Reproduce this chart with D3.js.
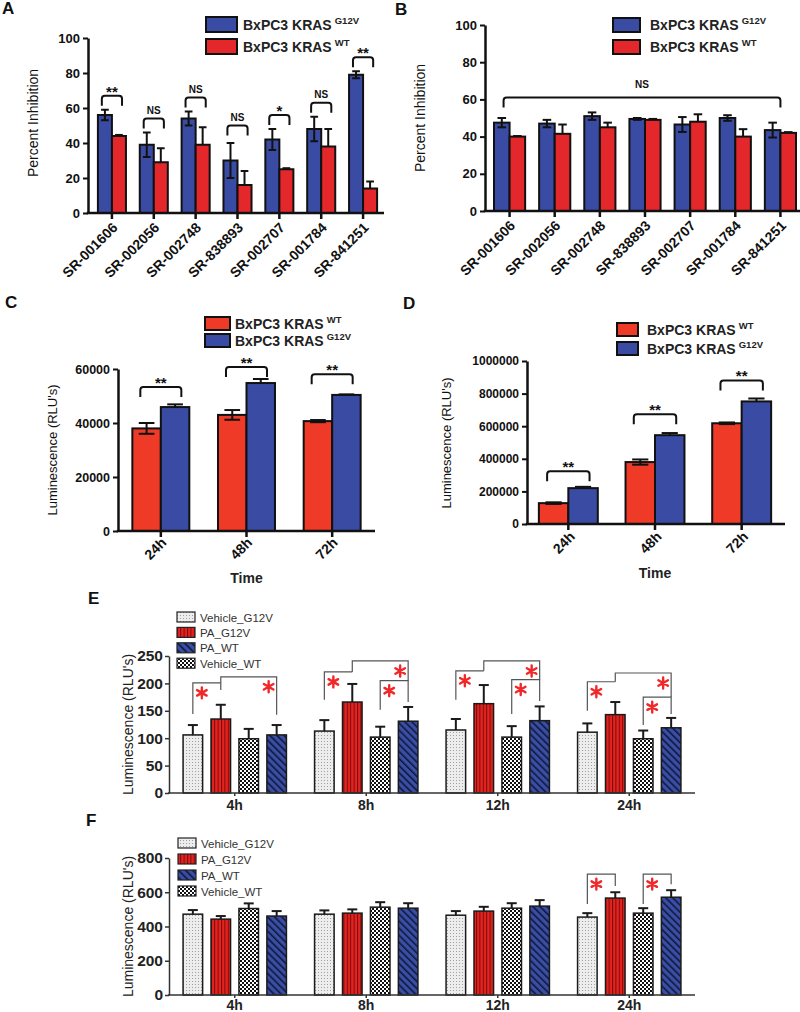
<!DOCTYPE html>
<html>
<head>
<meta charset="utf-8">
<script src="https://cdn.jsdelivr.net/npm/d3@7"></script>
<style>
body { margin: 0; background: #fff; }
svg { display: block; font-family: "Liberation Sans", Arial, sans-serif; }
</style>
</head>
<body>
<svg id="fig" width="800" height="1012"></svg>
<script>
// ---- data ----
const compounds = ["SR-001606", "SR-002056", "SR-002748", "SR-838893", "SR-002707", "SR-001784", "SR-841251"];

const inhibA_G12V = [56, 39, 54, 30, 42, 48, 79];
const inhibA_G12V_err = [3, 7, 4, 10, 6, 7, 2];
const inhibA_WT = [44, 29, 39, 16, 25, 38, 14];
const inhibA_WT_err = [0.6, 8, 10, 8, 0.6, 10, 4];
const sigA = ["**", "NS", "NS", "NS", "*", "NS", "**"];
const sigA_level = [67, 54, 66, 50, 56, 63, 89];

const inhibB_G12V = [47.5, 47, 51, 49.5, 46.5, 50, 43.5];
const inhibB_G12V_err = [2.5, 2, 2, 0.5, 4, 1.5, 4];
const inhibB_WT = [40, 41.5, 45, 49, 48, 40, 42];
const inhibB_WT_err = [0.3, 5, 2.5, 0.5, 4, 4, 0.4];
const sigB_level = 61;

const times3 = ["24h", "48h", "72h"];
const lumC_WT = [38000, 43000, 40700];
const lumC_WT_err = [2000, 1800, 400];
const lumC_G12V = [45900, 54800, 50400];
const lumC_G12V_err = [1000, 1500, 200];
const sigC_level = [53300, 60700, 58100];

const lumD_WT = [128000, 380000, 618000];
const lumD_WT_err = [5000, 16000, 5000];
const lumD_G12V = [220000, 545000, 752000];
const lumD_G12V_err = [8000, 13000, 18000];
const sigD_level = [324000, 673000, 881000];

const times4 = ["4h", "8h", "12h", "24h"];
const groupsEF = ["Vehicle_G12V", "PA_G12V", "Vehicle_WT", "PA_WT"];   // bar order
const legendEF = ["Vehicle_G12V", "PA_G12V", "PA_WT", "Vehicle_WT"];   // legend order

const lumE = {
  Vehicle_G12V: [106, 113, 115, 111],
  PA_G12V: [135, 166, 163, 143],
  Vehicle_WT: [99, 102, 102, 99],
  PA_WT: [106, 131, 132, 119]
};
const lumE_err = {
  Vehicle_G12V: [18, 20, 20, 16],
  PA_G12V: [26, 33, 34, 23],
  Vehicle_WT: [18, 19, 20, 15],
  PA_WT: [18, 26, 26, 18]
};
const lumF = {
  Vehicle_G12V: [472, 472, 466, 455],
  PA_G12V: [443, 478, 490, 566],
  Vehicle_WT: [505, 513, 507, 478],
  PA_WT: [461, 507, 519, 571]
};
const lumF_err = {
  Vehicle_G12V: [24, 22, 24, 23],
  PA_G12V: [18, 22, 25, 34],
  Vehicle_WT: [30, 29, 29, 29],
  PA_WT: [29, 29, 35, 41]
};
// significance brackets: [time, from, to, top, leftEnd, rightEnd, star side]
const sigE = [
  ["4h", "Vehicle_G12V", "PA_G12V", 201, 144, 188, "l"],
  ["4h", "PA_G12V", "PA_WT", 212, 201, 143, "r"],
  ["8h", "Vehicle_G12V", "PA_G12V", 221, 170, 221, "l"],
  ["8h", "PA_G12V", "PA_WT", 241, 221, 205, "r"],
  ["8h", "Vehicle_WT", "PA_WT", 205, 152, 166, "l"],
  ["12h", "Vehicle_G12V", "PA_G12V", 223, 170, 223, "l"],
  ["12h", "PA_G12V", "PA_WT", 241, 223, 207, "r"],
  ["12h", "Vehicle_WT", "PA_WT", 207, 144, 168, "l"],
  ["24h", "Vehicle_G12V", "PA_G12V", 203, 150, 203, "l"],
  ["24h", "PA_G12V", "PA_WT", 219, 203, 175, "r"],
  ["24h", "Vehicle_WT", "PA_WT", 175, 124, 144, "l"]
];
const sigF = [
  ["24h", "Vehicle_G12V", "PA_G12V", 706, 531, 636, "l"],
  ["24h", "Vehicle_WT", "PA_WT", 706, 531, 647, "l"]
];

const BLUE = "#3a4ba3";
const RED = "#e3272b";
const RED_C = "#ee3a27";

const svg = d3.select("#fig");

// ---- patterns for E / F ----
const defs = svg.append("defs");
const pDots = defs.append("pattern").attr("id", "pDots")
  .attr("width", 3).attr("height", 3).attr("patternUnits", "userSpaceOnUse");
pDots.append("rect").attr("width", 3).attr("height", 3).attr("fill", "#ededed");
pDots.append("rect").attr("width", 1).attr("height", 1).attr("fill", "#a0a0a0");

const pStripe = defs.append("pattern").attr("id", "pStripe")
  .attr("width", 3.4).attr("height", 4).attr("patternUnits", "userSpaceOnUse");
pStripe.append("rect").attr("width", 3.4).attr("height", 4).attr("fill", "#e2231f");
pStripe.append("rect").attr("width", 1).attr("height", 4).attr("fill", "#7a0c0c");

const pCheck = defs.append("pattern").attr("id", "pCheck")
  .attr("width", 4).attr("height", 4).attr("patternUnits", "userSpaceOnUse");
pCheck.append("rect").attr("width", 4).attr("height", 4).attr("fill", "#fff");
pCheck.append("rect").attr("width", 2).attr("height", 2).attr("fill", "#111");
pCheck.append("rect").attr("x", 2).attr("y", 2).attr("width", 2).attr("height", 2).attr("fill", "#111");

const pDiag = defs.append("pattern").attr("id", "pDiag")
  .attr("width", 5).attr("height", 5).attr("patternUnits", "userSpaceOnUse")
  .attr("patternTransform", "rotate(-45)");
pDiag.append("rect").attr("width", 5).attr("height", 5).attr("fill", "#3b4ea6");
pDiag.append("rect").attr("width", 1.6).attr("height", 5).attr("fill", "#0f1838");

const fillEF = {
  Vehicle_G12V: "url(#pDots)",
  PA_G12V: "url(#pStripe)",
  Vehicle_WT: "url(#pCheck)",
  PA_WT: "url(#pDiag)"
};

function panelLetter(t, x, y) {
  svg.append("text").attr("x", x).attr("y", y)
    .attr("font-size", 17).attr("font-weight", "bold").attr("fill", "#111").text(t);
}

function bracketPath(x1, x2, y, leg) {
  const r = 3;
  return "M" + x1 + "," + (y + leg) + "L" + x1 + "," + (y + r) +
    "Q" + x1 + "," + y + " " + (x1 + r) + "," + y +
    "L" + (x2 - r) + "," + y + "Q" + x2 + "," + y + " " + x2 + "," + (y + r) +
    "L" + x2 + "," + (y + leg);
}

// ---- two-series panels (A-D) ----
function pairedPanel(cfg) {
  const g = svg.append("g");
  const x = d3.scaleBand().domain(cfg.cats).range(cfg.xRange)
    .paddingInner(cfg.pad).paddingOuter(cfg.pad / 2);
  const xs = d3.scaleBand().domain([0, 1]).range([0, x.bandwidth()]);
  const y = d3.scaleLinear().domain(cfg.yDomain).range(cfg.yRange);
  const y0 = y(0);

  cfg.series.forEach((s, si) => {
    g.selectAll(null).data(s.vals).join("rect")
      .attr("x", (d, i) => x(cfg.cats[i]) + xs(si))
      .attr("y", d => y(d))
      .attr("width", xs.bandwidth())
      .attr("height", d => y0 - y(d))
      .attr("fill", s.color)
      .attr("stroke", "#111").attr("stroke-width", 2);
  });

  // error bars: left series both ways, right series up only
  cfg.series.forEach((s, si) => {
    const capW = xs.bandwidth() * 0.55;
    s.vals.forEach((v, i) => {
      const cx = x(cfg.cats[i]) + xs(si) + xs.bandwidth() / 2;
      const lo = si === 0 ? v - s.errs[i] : v;
      const hi = v + s.errs[i];
      g.append("line").attr("x1", cx).attr("x2", cx).attr("y1", y(lo)).attr("y2", y(hi))
        .attr("stroke", "#111").attr("stroke-width", 2);
      g.append("line").attr("x1", cx - capW / 2).attr("x2", cx + capW / 2)
        .attr("y1", y(hi)).attr("y2", y(hi)).attr("stroke", "#111").attr("stroke-width", 2);
      if (si === 0) {
        g.append("line").attr("x1", cx - capW / 2).attr("x2", cx + capW / 2)
          .attr("y1", y(lo)).attr("y2", y(lo)).attr("stroke", "#111").attr("stroke-width", 2);
      }
    });
  });

  // y axis
  const ya = g.append("g").attr("transform", "translate(" + cfg.axisX + ",0)")
    .call(d3.axisLeft(y).tickValues(cfg.ticks).tickSize(5).tickSizeOuter(0).tickPadding(3)
      .tickFormat(d3.format("d")));
  ya.select(".domain").attr("stroke", "#111").attr("stroke-width", 2.5);
  ya.selectAll(".tick line").attr("stroke", "#111").attr("stroke-width", 2);
  ya.selectAll(".tick text").attr("font-size", cfg.tickFont).attr("font-weight", "bold")
    .attr("fill", "#111").attr("font-family", "Liberation Sans, Arial, sans-serif");

  // x axis
  g.append("line").attr("x1", cfg.axisX - 1.2).attr("x2", cfg.xEnd)
    .attr("y1", y0).attr("y2", y0).attr("stroke", "#111").attr("stroke-width", 2.5);
  cfg.cats.forEach(c => {
    const cx = x(c) + x.bandwidth() / 2;
    g.append("line").attr("x1", cx).attr("x2", cx).attr("y1", y0).attr("y2", y0 + 6)
      .attr("stroke", "#111").attr("stroke-width", 2.5);
    g.append("text")
      .attr("transform", "translate(" + (cx + cfg.lblDx) + "," + (y0 + cfg.lblDy) + ") rotate(-45)")
      .attr("text-anchor", "end").attr("dy", "0.35em")
      .attr("font-size", 14).attr("font-weight", "bold").attr("fill", "#111").text(c);
  });

  // y label
  g.append("text")
    .attr("transform", "translate(" + cfg.yLabel[0] + "," + cfg.yLabel[1] + ") rotate(-90)")
    .attr("text-anchor", "middle").attr("font-size", cfg.yLabelFont).attr("fill", "#111")
    .text(cfg.yLabelText);

  if (cfg.xTitle) {
    g.append("text").attr("x", (cfg.xRange[0] + cfg.xRange[1]) / 2).attr("y", cfg.xTitle)
      .attr("text-anchor", "middle").attr("font-size", 14).attr("font-weight", "bold")
      .attr("fill", "#222").text("Time");
  }

  // brackets per group
  if (cfg.sig) {
    cfg.cats.forEach((c, i) => {
      const cx = x(c) + x.bandwidth() / 2;
      const half = xs.bandwidth() * 0.72;
      const by = y(cfg.sig.level[i]);
      g.append("path").attr("d", bracketPath(cx - half, cx + half, by, 10))
        .attr("fill", "none").attr("stroke", "#111").attr("stroke-width", 2);
      const t = cfg.sig.text[i];
      const ns = t === "NS";
      g.append("text").attr("x", cx).attr("y", ns ? by - 4.5 : by + 1)
        .attr("text-anchor", "middle").attr("font-weight", "bold")
        .attr("font-size", ns ? 10 : 15).attr("fill", "#111").text(t);
    });
  }
  if (cfg.span) {
    const x1 = x(cfg.cats[0]) + x.bandwidth() / 2 - 6;
    const x2 = x(cfg.cats[cfg.cats.length - 1]) + x.bandwidth() / 2;
    const by = y(cfg.span.level);
    g.append("path").attr("d", bracketPath(x1, x2, by, 10))
      .attr("fill", "none").attr("stroke", "#111").attr("stroke-width", 2);
    g.append("text").attr("x", (x1 + x2) / 2).attr("y", by - 10)
      .attr("text-anchor", "middle").attr("font-weight", "bold")
      .attr("font-size", 10).attr("fill", "#111").text(cfg.span.text);
  }

  // legend
  const L = cfg.legend;
  cfg.legendOrder.forEach((si, k) => {
    const s = cfg.series[si];
    const ry = L.y + k * L.gap;
    g.append("rect").attr("x", L.x).attr("y", ry).attr("width", L.w).attr("height", L.h)
      .attr("fill", s.color).attr("stroke", "#111").attr("stroke-width", 2);
    const t = g.append("text").attr("x", L.tx).attr("y", ry + L.h / 2 + 5)
      .attr("font-size", 14).attr("font-weight", "bold").attr("fill", "#222");
    t.append("tspan").text("BxPC3 KRAS");
    t.append("tspan").attr("dx", 3).attr("dy", -6).attr("font-size", 9.5).text(s.sup);
  });
}

pairedPanel({
  cats: compounds, xRange: [91, 384], pad: 0.33, xEnd: 384,
  yDomain: [0, 100], yRange: [213, 38], axisX: 88, ticks: [0, 20, 40, 60, 80, 100], tickFont: 13,
  series: [
    { vals: inhibA_G12V, errs: inhibA_G12V_err, color: BLUE, sup: "G12V" },
    { vals: inhibA_WT, errs: inhibA_WT_err, color: RED, sup: "WT" }
  ],
  legendOrder: [0, 1],
  legend: { x: 206, y: 17, w: 31, h: 15, gap: 22, tx: 243 },
  lblDx: 3, lblDy: 12,
  yLabel: [38, 123], yLabelText: "Percent Inhibition", yLabelFont: 14,
  sig: { level: sigA_level, text: sigA }
});

pairedPanel({
  cats: compounds, xRange: [487, 803], pad: 0.31, xEnd: 800,
  yDomain: [0, 100], yRange: [211, 25], axisX: 485, ticks: [0, 20, 40, 60, 80, 100], tickFont: 13,
  series: [
    { vals: inhibB_G12V, errs: inhibB_G12V_err, color: BLUE, sup: "G12V" },
    { vals: inhibB_WT, errs: inhibB_WT_err, color: RED, sup: "WT" }
  ],
  legendOrder: [0, 1],
  legend: { x: 613, y: 18, w: 27, h: 14, gap: 22, tx: 650 },
  lblDx: 3, lblDy: 12,
  yLabel: [425, 118], yLabelText: "Percent Inhibition", yLabelFont: 14,
  span: { level: sigB_level, text: "NS" }
});

pairedPanel({
  cats: times3, xRange: [118, 375], pad: 0.335, xEnd: 375,
  yDomain: [0, 60000], yRange: [531, 369], axisX: 118, ticks: [0, 20000, 40000, 60000], tickFont: 12.5,
  series: [
    { vals: lumC_WT, errs: lumC_WT_err, color: RED_C, sup: "WT" },
    { vals: lumC_G12V, errs: lumC_G12V_err, color: BLUE, sup: "G12V" }
  ],
  legendOrder: [0, 1],
  legend: { x: 205, y: 317, w: 25, h: 13, gap: 17, tx: 235 },
  lblDx: 3, lblDy: 9,
  yLabel: [57, 450], yLabelText: "Luminescence (RLU's)", yLabelFont: 13,
  xTitle: 583,
  sig: { level: sigC_level, text: ["**", "**", "**"] }
});

pairedPanel({
  cats: times3, xRange: [525, 785], pad: 0.32, xEnd: 785,
  yDomain: [0, 1000000], yRange: [524, 361], axisX: 527,
  ticks: [0, 200000, 400000, 600000, 800000, 1000000], tickFont: 12,
  series: [
    { vals: lumD_WT, errs: lumD_WT_err, color: RED_C, sup: "WT" },
    { vals: lumD_G12V, errs: lumD_G12V_err, color: BLUE, sup: "G12V" }
  ],
  legendOrder: [0, 1],
  legend: { x: 617, y: 323, w: 21, h: 13, gap: 19, tx: 647 },
  lblDx: 4, lblDy: 10,
  yLabel: [451, 443], yLabelText: "Luminescence (RLU's)", yLabelFont: 13,
  xTitle: 578,
  sig: { level: sigD_level, text: ["**", "**", "**"] }
});

// ---- four-series patterned panels (E, F) ----
function starPath(cx, cy, r) {
  let d = "";
  [90, 30, 150].forEach(a => {
    const rad = a * Math.PI / 180;
    const dx = r * Math.cos(rad), dy = r * Math.sin(rad);
    d += "M" + (cx - dx) + "," + (cy - dy) + "L" + (cx + dx) + "," + (cy + dy);
  });
  return d;
}

function patternPanel(cfg) {
  const g = svg.append("g");
  const x = d3.scaleBand().domain(times4).range([169, 695]).paddingInner(0.214).paddingOuter(0.107);
  const xs = d3.scaleBand().domain(groupsEF).range([0, x.bandwidth()]).paddingInner(0.3);
  const y = d3.scaleLinear().domain(cfg.yDomain).range(cfg.yRange);
  const y0 = y(0);
  const bx = (t, grp) => x(t) + xs(grp) + xs.bandwidth() / 2;

  groupsEF.forEach(grp => {
    g.selectAll(null).data(cfg.vals[grp]).join("rect")
      .attr("x", (d, i) => x(times4[i]) + xs(grp))
      .attr("y", d => y(d))
      .attr("width", xs.bandwidth())
      .attr("height", d => y0 - y(d))
      .attr("fill", fillEF[grp])
      .attr("stroke", "#1a1a1a").attr("stroke-width", 1.5);
    cfg.vals[grp].forEach((v, i) => {
      const cx = bx(times4[i], grp);
      const hi = v + cfg.errs[grp][i];
      g.append("line").attr("x1", cx).attr("x2", cx).attr("y1", y(v)).attr("y2", y(hi))
        .attr("stroke", "#1a1a1a").attr("stroke-width", 2);
      g.append("line").attr("x1", cx - 5).attr("x2", cx + 5).attr("y1", y(hi)).attr("y2", y(hi))
        .attr("stroke", "#1a1a1a").attr("stroke-width", 2);
    });
  });

  const ya = g.append("g").attr("transform", "translate(169,0)")
    .call(d3.axisLeft(y).tickValues(cfg.ticks).tickSize(4).tickSizeOuter(0).tickPadding(2));
  ya.select(".domain").attr("stroke", "#333").attr("stroke-width", 1.5);
  ya.selectAll(".tick line").attr("stroke", "#333").attr("stroke-width", 1.5);
  ya.selectAll(".tick text").attr("font-size", 15.5).attr("font-weight", "bold")
    .attr("fill", "#222").attr("font-family", "Liberation Sans, Arial, sans-serif");

  g.append("line").attr("x1", 168).attr("x2", 695).attr("y1", y0).attr("y2", y0)
    .attr("stroke", "#333").attr("stroke-width", 1.5);
  times4.forEach(t => {
    const cx = x(t) + x.bandwidth() / 2;
    g.append("line").attr("x1", cx).attr("x2", cx).attr("y1", y0).attr("y2", y0 + 3)
      .attr("stroke", "#333").attr("stroke-width", 1.5);
    g.append("text").attr("x", cx).attr("y", y0 + cfg.xLblDy).attr("text-anchor", "middle")
      .attr("font-size", 14).attr("font-weight", "bold").attr("fill", "#222").text(t);
  });

  g.append("text")
    .attr("transform", "translate(133," + ((cfg.yRange[0] + cfg.yRange[1]) / 2) + ") rotate(-90)")
    .attr("text-anchor", "middle").attr("font-size", 14).attr("fill", "#222")
    .text("Luminescence (RLU's)");

  cfg.sig.forEach(b => {
    const [t, a, c, top, l, r, side] = b;
    const xl = bx(t, a), xr = bx(t, c);
    g.append("path")
      .attr("d", "M" + xl + "," + y(l) + "V" + y(top) + "H" + xr + "V" + y(r))
      .attr("fill", "none").attr("stroke", "#555").attr("stroke-width", 1.2);
    const sx = side === "l" ? xl + 9 : xr - 8;
    g.append("path").attr("d", starPath(sx, y(top) + 10, 5.5))
      .attr("stroke", "#f0282a").attr("stroke-width", 2.4).attr("stroke-linecap", "round");
  });

  legendEF.forEach((grp, k) => {
    const ry = cfg.legendY + k * cfg.legendGap;
    g.append("rect").attr("x", cfg.legendX).attr("y", ry).attr("width", 18).attr("height", 10)
      .attr("fill", fillEF[grp]).attr("stroke", "#222").attr("stroke-width", 1.2);
    g.append("text").attr("x", cfg.legendX + 23).attr("y", ry + 9.5)
      .attr("font-size", 11.5).attr("fill", "#333").text(grp);
  });
}

patternPanel({
  vals: lumE, errs: lumE_err, yDomain: [0, 250], yRange: [793, 656],
  ticks: [0, 50, 100, 150, 200, 250], sig: sigE, xLblDy: 17,
  legendX: 177, legendY: 612, legendGap: 15.4
});
patternPanel({
  vals: lumF, errs: lumF_err, yDomain: [0, 800], yRange: [995, 858],
  ticks: [0, 200, 400, 600, 800], sig: sigF, xLblDy: 14.5,
  legendX: 178, legendY: 838, legendGap: 16
});

panelLetter("A", 2, 14);
panelLetter("B", 395, 15);
panelLetter("C", 5, 308);
panelLetter("D", 403, 309);
panelLetter("E", 88, 604);
panelLetter("F", 86, 826);
</script>
</body>
</html>
